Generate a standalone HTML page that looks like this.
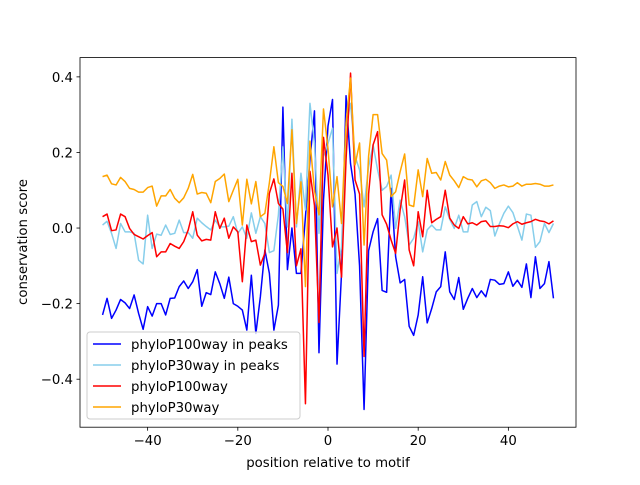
<!DOCTYPE html>
<html><head><meta charset="utf-8"><style>
html,body{margin:0;padding:0;background:#fff;}
svg text{font-family:"DejaVu Sans","Liberation Sans",sans-serif;font-size:13.3px;fill:#000;}
</style></head><body>
<svg id="chart" width="640" height="480" viewBox="0 0 640 480" xmlns="http://www.w3.org/2000/svg">
<rect x="0" y="0" width="640" height="480" fill="#fff"/>
<g id="plot"></g>
<rect x="80" y="57.6" width="496" height="369.6" fill="none" stroke="#000" stroke-width="0.8"/>
<g id="ticks"></g>
<text x="328" y="467" text-anchor="middle">position relative to motif</text>
<text transform="translate(27,242) rotate(-90)" text-anchor="middle">conservation score</text>
<g>
<rect x="87" y="332" width="213" height="87" rx="3" fill="#fff" fill-opacity="0.8" stroke="#ccc" stroke-width="1"/>
<g><line x1="93" y1="344" x2="121" y2="344" stroke="#0000ff" stroke-width="1.5"/><text x="131" y="349">phyloP100way in peaks</text></g>
<g><line x1="93" y1="365" x2="121" y2="365" stroke="#87ceeb" stroke-width="1.5"/><text x="131" y="370">phyloP30way in peaks</text></g>
<g><line x1="93" y1="386" x2="121" y2="386" stroke="#ff0000" stroke-width="1.5"/><text x="131" y="391">phyloP100way</text></g>
<g><line x1="93" y1="407" x2="121" y2="407" stroke="#ffa500" stroke-width="1.5"/><text x="131" y="412">phyloP30way</text></g>
</g>
</svg>
<script>
const xTicks = [-40, -20, 0, 20, 40];
const yTicks = [-0.4, -0.2, 0.0, 0.2, 0.4];
const yTickLabels = ["−0.4", "−0.2", "0.0", "0.2", "0.4"];
const seriesNames = ["phyloP100way in peaks", "phyloP30way in peaks", "phyloP100way", "phyloP30way"];
const blueValues = [-0.23,-0.186,-0.239,-0.217,-0.189,-0.198,-0.213,-0.177,-0.226,-0.268,-0.208,-0.233,-0.2,-0.2,-0.23,-0.186,-0.185,-0.155,-0.14,-0.16,-0.142,-0.11,-0.207,-0.171,-0.176,-0.116,
-0.147,-0.186,-0.13,-0.2,-0.207,-0.217,-0.27,-0.125,-0.279,-0.182,-0.058,-0.12,-0.27,-0.204,
0.32,-0.11,0.0,-0.12,-0.12,0.03,0.18,0.31,-0.33,0.074,0.27,0.34,-0.36,-0.12,0.35,0.17,0.09,-0.1,-0.48,-0.06,-0.01,0.025,-0.165,-0.17,
0.105,-0.076,-0.145,-0.136,-0.26,-0.284,-0.23,-0.129,-0.251,-0.213,-0.169,
-0.155,-0.063,-0.169,-0.189,-0.131,-0.215,-0.186,-0.16,-0.184,-0.166,-0.182,-0.136,-0.138,-0.149,-0.147,-0.116,-0.154,-0.138,-0.157,-0.095,-0.184,-0.076,-0.16,-0.147,-0.089,-0.186];
const skyValues = [0.008,0.018,-0.014,-0.054,0.012,-0.01,-0.01,-0.014,-0.085,-0.095,0.034,-0.054,-0.016,-0.019,0.008,-0.017,-0.014,0.021,-0.012,-0.012,-0.027,0.026,0.014,0.004,-0.005,0.021,
0.003,0.003,0.005,0.03,-0.014,0.003,-0.027,0.04,-0.014,0.03,0.012,-0.065,-0.06,0.035,
0.215,0.003,0.288,0.003,0.145,0.048,0.33,0.224,-0.014,0.189,0.224,0.264,-0.12,-0.05,0.268,0.33,0.19,0.154,0.056,0.162,0.22,0.154,0.1,0.11,
0.14,-0.001,0.074,0.03,-0.045,-0.027,0.017,-0.063,-0.005,0.008,-0.005,
-0.005,0.056,0.023,-0.001,0.034,-0.01,-0.01,0.061,0.07,0.03,0.055,0.046,-0.021,0.011,0.039,0.058,0.041,0.005,-0.032,0.037,0.034,-0.051,-0.036,0.012,-0.012,0.012];
const redValues = [0.03,0.037,-0.007,-0.005,0.037,0.03,-0.001,-0.017,-0.023,-0.029,-0.02,-0.012,-0.076,-0.063,-0.063,-0.041,-0.048,-0.054,-0.036,-0.005,0.043,-0.019,-0.034,-0.03,-0.032,0.043,
-0.001,0.026,-0.027,0.003,-0.01,-0.142,0.008,-0.036,-0.032,-0.098,-0.067,0.092,
0.13,0.065,0.05,-0.065,0.145,-0.1,-0.055,-0.465,0.15,0.06,-0.25,0.24,0.14,-0.05,0.0,-0.13,0.18,0.41,0.127,0.09,-0.34,0.09,0.22,0.255,0.035,0.01,
-0.032,-0.067,0.048,0.127,-0.058,-0.1,0.043,-0.023,0.1,0.014,0.023,
0.03,0.1,0.026,0.008,-0.001,0.03,0.011,0.014,0.008,0.017,0.019,0.004,0.004,0.006,0.005,0.001,0.011,0.017,0.01,0.014,0.017,0.023,0.019,0.017,0.011,0.019];
const orangeValues = [0.136,0.14,0.117,0.114,0.134,0.123,0.105,0.102,0.095,0.095,0.107,0.111,0.058,0.085,0.085,0.102,0.079,0.067,0.08,0.105,0.142,0.09,0.094,0.092,0.067,0.123,
0.131,0.143,0.07,0.1,0.129,0.008,0.129,0.064,0.123,0.03,0.039,0.12,
0.215,0.12,0.11,0.065,0.26,0.012,0.122,-0.155,0.23,0.1,0.035,0.315,0.21,0.056,0.136,0.012,0.277,0.397,0.167,0.225,-0.045,0.19,0.3,0.3,0.197,0.18,
0.083,0.096,0.149,0.196,0.061,0.057,0.154,0.083,0.184,0.145,0.147,
0.127,0.176,0.14,0.125,0.107,0.136,0.129,0.127,0.109,0.125,0.129,0.12,0.105,0.111,0.114,0.109,0.111,0.12,0.111,0.116,0.116,0.118,0.116,0.111,0.111,0.114];
const xStart = -50;

const NS = "http://www.w3.org/2000/svg";
const L = 80, R = 576, T = 57.6, B = 427.2;
const xMin = -55, xMax = 55, yMin = -0.527, yMax = 0.451;
function xScale(v){ return L + (v - xMin) / (xMax - xMin) * (R - L); }
function yScale(v){ return B - (v - yMin) / (yMax - yMin) * (B - T); }

const plot = document.getElementById("plot");
const series = [
  {vals: blueValues, color: "#0000ff", name: "line-phylop100way-in-peaks"},
  {vals: skyValues, color: "#87ceeb", name: "line-phylop30way-in-peaks"},
  {vals: redValues, color: "#ff0000", name: "line-phylop100way"},
  {vals: orangeValues, color: "#ffa500", name: "line-phylop30way"}
];
series.forEach(s => {
  const pts = s.vals.map((v, i) => xScale(xStart + i).toFixed(2) + "," + yScale(v).toFixed(2)).join(" ");
  const pl = document.createElementNS(NS, "polyline");
  pl.setAttribute("points", pts);
  pl.setAttribute("fill", "none");
  pl.setAttribute("stroke", s.color);
  pl.setAttribute("stroke-width", "1.5");
  pl.setAttribute("stroke-linejoin", "round");
  
  
  plot.appendChild(pl);
});

const ticks = document.getElementById("ticks");
xTicks.forEach(t => {
  const x = xScale(t);
  const ln = document.createElementNS(NS, "line");
  ln.setAttribute("x1", x); ln.setAttribute("x2", x);
  ln.setAttribute("y1", B); ln.setAttribute("y2", B + 3.5);
  ln.setAttribute("stroke", "#000"); ln.setAttribute("stroke-width", "0.8");
  
  
  ticks.appendChild(ln);
  const tx = document.createElementNS(NS, "text");
  tx.setAttribute("x", x); tx.setAttribute("y", B + 18);
  tx.setAttribute("text-anchor", "middle");
  tx.textContent = t < 0 ? "−" + Math.abs(t) : String(t);
  
  
  ticks.appendChild(tx);
});
yTicks.forEach((t, i) => {
  const y = yScale(t);
  const ln = document.createElementNS(NS, "line");
  ln.setAttribute("x1", L - 3.5); ln.setAttribute("x2", L);
  ln.setAttribute("y1", y); ln.setAttribute("y2", y);
  ln.setAttribute("stroke", "#000"); ln.setAttribute("stroke-width", "0.8");
  
  
  ticks.appendChild(ln);
  const tx = document.createElementNS(NS, "text");
  tx.setAttribute("x", L - 7); tx.setAttribute("y", y + 5);
  tx.setAttribute("text-anchor", "end");
  tx.textContent = yTickLabels[i];
  
  
  ticks.appendChild(tx);
});
</script>
</body></html>
